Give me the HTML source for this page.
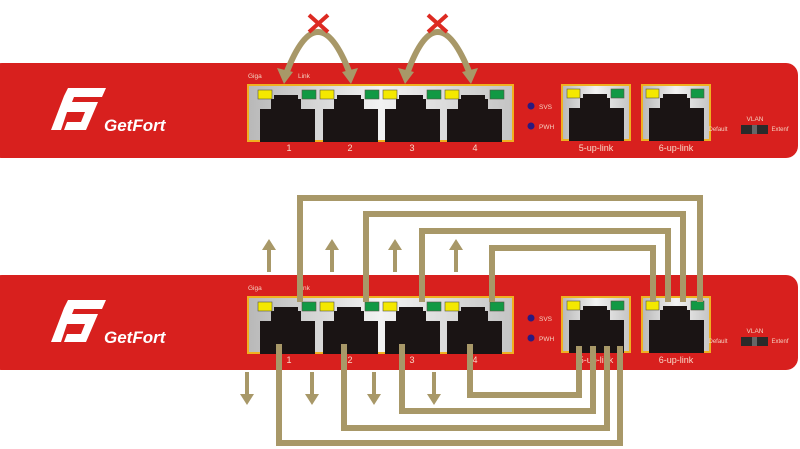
<!DOCTYPE html>
<html><head><meta charset="utf-8"><style>
html,body{margin:0;padding:0;background:#fff}
svg{display:block}
text{font-family:"Liberation Sans",sans-serif}
</style></head><body>
<svg width="800" height="449" viewBox="0 0 800 449" xmlns="http://www.w3.org/2000/svg">
<defs>
<linearGradient id="pg" x1="0" y1="0" x2="1" y2="0">
<stop offset="0" stop-color="#b8b8b8"/><stop offset="0.5" stop-color="#f2f2f2"/><stop offset="1" stop-color="#c4c4c4"/>
</linearGradient>
<g id="jack">
<path d="M0,13 h11 v-10 h3 v-4 h24 v4 h3 v10 h14 v33 h-55z" fill="#1a1414"/>
</g>
<g id="panel">
<rect x="-10" y="63" width="808" height="95" rx="12" fill="#d8201e"/>
<!-- logo -->
<path d="M64,96 l4,-8 h38 l-4,9 h-28 l-2,5 h26 l-12,28 h-22 l3,-8 h14 l4,-10 h-18 l-6,18 h-10z" fill="#fff"/>
<text x="104" y="131" font-size="17" font-weight="bold" font-style="italic" fill="#fff">GetFort</text>
<text x="248" y="78" font-size="6.5" fill="#f4d0c0">Giga</text>
<text x="298" y="78" font-size="6.5" fill="#f4d0c0">Link</text>
<!-- 4 port group -->
<rect x="248" y="85" width="265" height="56" fill="url(#pg)" stroke="#f0b020" stroke-width="2"/>
<g>
<use href="#jack" x="260" y="96"/><use href="#jack" x="323" y="96"/><use href="#jack" x="385" y="96"/><use href="#jack" x="447" y="96"/>
<rect x="258" y="90" width="14" height="9" fill="#f4e800" stroke="#554" stroke-width=".6"/>
<rect x="302" y="90" width="14" height="9" fill="#119944" stroke="#554" stroke-width=".6"/>
<rect x="320" y="90" width="14" height="9" fill="#f4e800" stroke="#554" stroke-width=".6"/>
<rect x="365" y="90" width="14" height="9" fill="#119944" stroke="#554" stroke-width=".6"/>
<rect x="383" y="90" width="14" height="9" fill="#f4e800" stroke="#554" stroke-width=".6"/>
<rect x="427" y="90" width="14" height="9" fill="#119944" stroke="#554" stroke-width=".6"/>
<rect x="445" y="90" width="14" height="9" fill="#f4e800" stroke="#554" stroke-width=".6"/>
<rect x="490" y="90" width="14" height="9" fill="#119944" stroke="#554" stroke-width=".6"/>
</g>
<g font-size="9" fill="#f8d8c8" text-anchor="middle">
<text x="289" y="151">1</text><text x="350" y="151">2</text><text x="412" y="151">3</text><text x="475" y="151">4</text>
</g>
<circle cx="531" cy="106" r="3.5" fill="#2a1a80"/><circle cx="531" cy="126" r="3.5" fill="#2a1a80"/>
<text x="539" y="109" font-size="6.5" fill="#f4d0c0">SVS</text>
<text x="539" y="129" font-size="6.5" fill="#f4d0c0">PWH</text>
<!-- uplinks -->
<rect x="562" y="85" width="68" height="55" fill="url(#pg)" stroke="#f0b020" stroke-width="2"/>
<use href="#jack" x="569" y="95"/>
<rect x="567" y="89" width="13" height="9" fill="#f4e800" stroke="#554" stroke-width=".6"/>
<rect x="611" y="89" width="13" height="9" fill="#119944" stroke="#554" stroke-width=".6"/>
<rect x="642" y="85" width="68" height="55" fill="url(#pg)" stroke="#f0b020" stroke-width="2"/>
<use href="#jack" x="649" y="95"/>
<rect x="646" y="89" width="13" height="9" fill="#f4e800" stroke="#554" stroke-width=".6"/>
<rect x="691" y="89" width="13" height="9" fill="#119944" stroke="#554" stroke-width=".6"/>
<text x="596" y="151" font-size="9" fill="#f8d8c8" text-anchor="middle">5-up-link</text>
<text x="676" y="151" font-size="9" fill="#f8d8c8" text-anchor="middle">6-up-link</text>
<text x="755" y="121" font-size="6.5" fill="#f4d0c0" text-anchor="middle">VLAN</text>
<text x="718" y="131" font-size="6" fill="#f4d0c0" text-anchor="middle">Default</text>
<text x="780" y="131" font-size="6" fill="#f4d0c0" text-anchor="middle">Extenf</text>
<rect x="741" y="125" width="27" height="9" fill="#2a2a2a"/><rect x="752" y="125" width="5" height="9" fill="#666"/>
</g>
</defs>

<use href="#panel"/>
<use href="#panel" y="212"/>

<!-- top arcs -->
<g fill="none" stroke="#a89868" stroke-width="6">
<path d="M286,74 Q318,-10 350,74"/>
<path d="M407,74 Q437,-10 470,74"/>
</g>
<g fill="#a89868">
<polygon points="277,68 293,72 284,84"/><polygon points="342,72 358,68 351,84"/>
<polygon points="398,68 414,72 405,84"/><polygon points="462,72 478,68 471,84"/>
</g>
<g stroke="#dd2a22" stroke-width="4">
<line x1="309" y1="15" x2="328" y2="32"/><line x1="328" y1="15" x2="309" y2="32"/>
<line x1="428" y1="15" x2="447" y2="32"/><line x1="447" y1="15" x2="428" y2="32"/>
</g>

<!-- bottom cables -->
<g fill="none" stroke="#a89868" stroke-width="6" stroke-linejoin="miter">
<path d="M300,302 V198 H700 V302"/>
<path d="M366,302 V214 H683 V302"/>
<path d="M422,302 V231 H668 V302"/>
<path d="M492,302 V248 H653 V302"/>
<path d="M279,344 V443 H620 V346"/>
<path d="M344,344 V428 H607 V346"/>
<path d="M402,344 V411 H593 V346"/>
<path d="M470,344 V395 H579 V346"/>
</g>
<!-- arrows -->
<g fill="#a89868">
<g id="up"><rect x="267" y="248" width="4" height="24"/><polygon points="262,250 276,250 269,239"/></g>
<use href="#up" x="63"/><use href="#up" x="126"/><use href="#up" x="187"/>
<g id="dn"><rect x="245" y="372" width="4" height="24"/><polygon points="240,394 254,394 247,405"/></g>
<use href="#dn" x="65"/><use href="#dn" x="127"/><use href="#dn" x="187"/>
</g>
</svg>
</body></html>
